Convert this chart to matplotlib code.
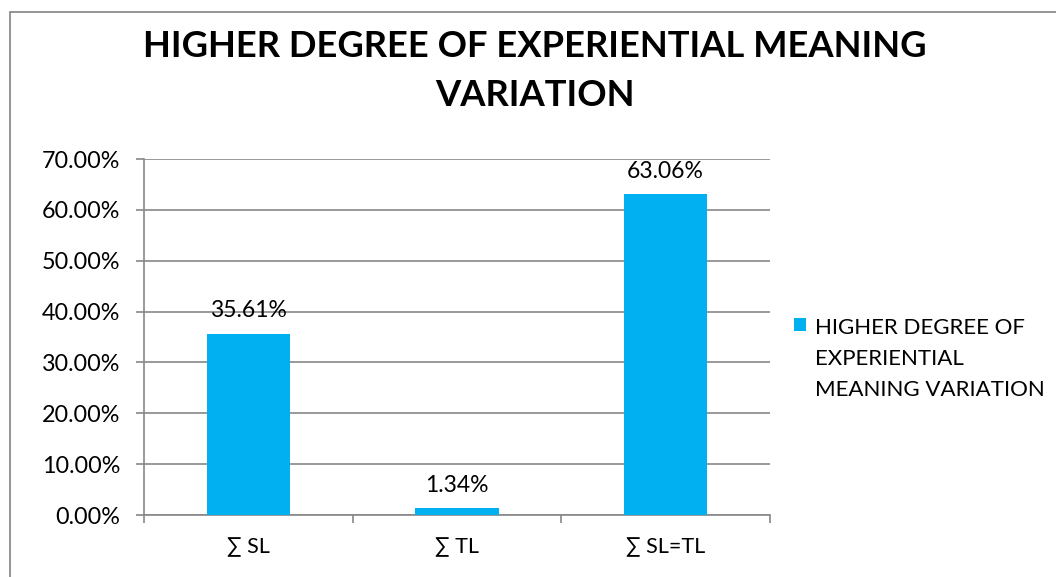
import numpy as np
import matplotlib.pyplot as plt
from matplotlib.patches import Rectangle
from matplotlib.ticker import PercentFormatter

categories = ['∑ SL', '∑ TL', '∑ SL=TL']
values = [35.61, 1.34, 63.06]
value_labels = ['35.61%', '1.34%', '63.06%']
series_name = 'HIGHER DEGREE OF\nEXPERIENTIAL\nMEANING VARIATION'
title_lines = 'HIGHER DEGREE OF EXPERIENTIAL MEANING\nVARIATION'

plt.rcParams['font.family'] = ['Lato', 'DejaVu Sans']

bar_color = '#00B0F0'
grid_color = '#888888'

fig = plt.figure(figsize=(10.56, 5.77), dpi=100)
ax = fig.add_axes([144 / 1056, 1 - 515 / 577, 626 / 1056, 356 / 577])

x = np.arange(len(categories))
ax.bar(x, values, width=0.4, color=bar_color, label=series_name, zorder=3)
for xi, v, lab in zip(x, values, value_labels):
    ax.annotate(lab, (xi, v), xytext=(0, 9), textcoords='offset points',
                ha='center', va='bottom', fontsize=16.5)

ax.set_xlim(-0.5, 2.5)
ax.set_ylim(0, 70)
ax.set_yticks(np.arange(0, 71, 10))
ax.yaxis.set_major_formatter(PercentFormatter(decimals=2))
ax.set_xticks(x)
ax.set_xticklabels(categories)
ax.set_xticks(np.arange(-0.5, 3, 1), minor=True)
ax.tick_params(axis='x', which='major', length=0, pad=16, labelsize=15.5)
ax.tick_params(axis='x', which='minor', length=6, color=grid_color, width=1.2)
ax.tick_params(axis='y', length=6, color=grid_color, width=1.2, labelsize=16.8, pad=11)
ax.grid(axis='y', color=grid_color, linewidth=1.2, zorder=0)
for s in ['top', 'right']:
    ax.spines[s].set_visible(False)
for s in ['left', 'bottom']:
    ax.spines[s].set_color(grid_color)
    ax.spines[s].set_linewidth(1.2)

fig.text(535 / 1056, 1 - 71 / 577, title_lines, ha='center', va='center',
         fontsize=26.2, fontweight='bold', linespacing=1.58)

leg = ax.legend(loc='upper left', bbox_to_anchor=(794 / 1056, 1 - 318 / 577),
                bbox_transform=fig.transFigure, frameon=False, fontsize=16,
                handlelength=0.55, handleheight=0.55, handletextpad=0.4,
                borderaxespad=0, borderpad=0)
# put the square next to the first line, not the middle of the label
for col in leg._legend_handle_box.get_children():
    for row in col.get_children():
        row.align = 'top'
for t in leg.get_texts():
    t.set_linespacing(1.68)

fig.patches.append(Rectangle((10 / 1056, -0.1), 1.2, 1.1 - 12 / 577,
                             transform=fig.transFigure, fill=False,
                             edgecolor='#8c8c8c', linewidth=1.3))

fig.savefig('out.png', dpi=100)
